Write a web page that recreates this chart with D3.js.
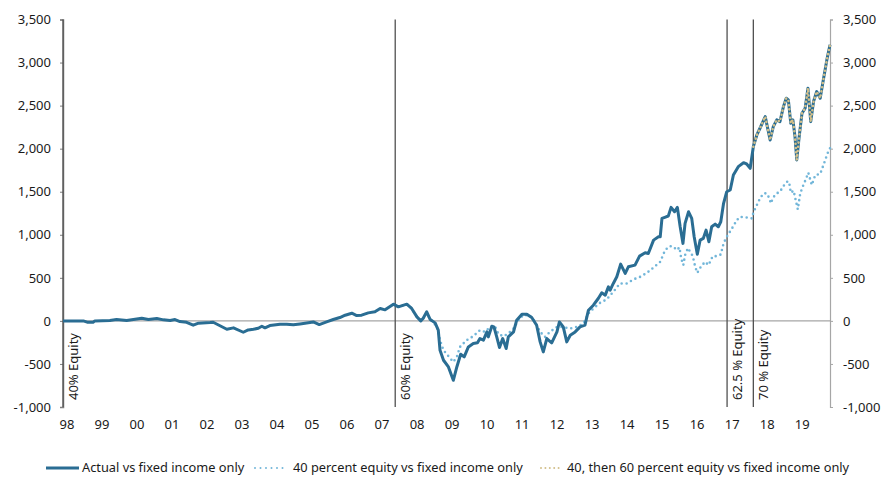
<!DOCTYPE html>
<html>
<head>
<meta charset="utf-8">
<script src="https://cdn.jsdelivr.net/npm/d3@7/dist/d3.min.js"></script>
<style>
  html, body { margin: 0; padding: 0; background: #fff; }
  svg { display: block; font-family: "Noto Sans", "Open Sans", sans-serif; }
</style>
</head>
<body>
<svg id="chart" width="888" height="482"></svg>
<script>
// ---- Data (decimal years, values) ----
const actualDates = [1998.00,1998.58,1998.69,1998.86,1998.91,1999.34,1999.53,1999.82,2000.25,2000.44,2000.68,2000.87,2001.06,2001.20,2001.34,2001.53,2001.72,2001.87,2002.20,2002.29,2002.68,2002.87,2003.15,2003.29,2003.44,2003.58,2003.68,2003.77,2003.91,2004.20,2004.39,2004.58,2004.77,2005.15,2005.32,2005.53,2005.72,2005.91,2006.06,2006.25,2006.39,2006.53,2006.72,2006.91,2007.06,2007.20,2007.44,2007.58,2007.82,2007.96,2008.11,2008.22,2008.29,2008.39,2008.49,2008.63,2008.72,2008.77,2008.87,2009.01,2009.15,2009.25,2009.36,2009.46,2009.58,2009.72,2009.84,2009.91,2010.01,2010.11,2010.15,2010.25,2010.31,2010.39,2010.47,2010.56,2010.66,2010.72,2010.87,2010.96,2011.11,2011.25,2011.39,2011.53,2011.63,2011.72,2011.82,2011.96,2012.11,2012.18,2012.29,2012.39,2012.49,2012.63,2012.77,2012.91,2013.01,2013.15,2013.29,2013.39,2013.49,2013.58,2013.63,2013.72,2013.82,2013.93,2014.06,2014.15,2014.34,2014.47,2014.63,2014.72,2014.87,2015.01,2015.06,2015.11,2015.23,2015.29,2015.37,2015.47,2015.55,2015.63,2015.71,2015.77,2015.87,2015.96,2016.03,2016.12,2016.20,2016.29,2016.37,2016.45,2016.53,2016.63,2016.72,2016.79,2016.87,2016.96,2017.06,2017.15,2017.29,2017.44,2017.53,2017.63,2017.72,2017.82,2017.91,2018.06,2018.12,2018.20,2018.29,2018.39,2018.48,2018.58,2018.66,2018.72,2018.79,2018.85,2018.91,2018.96,2019.03,2019.11,2019.20,2019.28,2019.36,2019.44,2019.53,2019.63,2019.72,2019.82,2019.91];
const actualValues = [0,0,-15,-15,0,5,16,5,31,16,27,12,4,16,-8,-16,-50,-27,-20,-16,-97,-81,-132,-105,-97,-85,-62,-81,-54,-39,-39,-46,-35,-12,-43,-12,16,39,66,89,62,66,93,105,144,128,194,163,194,144,47,0,31,105,16,-23,-108,-341,-457,-535,-690,-535,-387,-418,-302,-263,-255,-205,-224,-128,-186,-62,-70,-186,-310,-205,-321,-186,-128,8,78,78,39,-50,-244,-360,-205,-255,-128,-12,-70,-244,-166,-128,-70,-50,124,182,260,326,299,395,357,435,512,659,551,628,648,752,791,783,938,977,977,1190,1209,1217,1318,1267,1318,1093,900,1132,1267,1190,977,775,938,958,1054,919,1093,1124,1093,1151,1365,1500,1520,1694,1791,1837,1822,1772,2023,2159,2237,2372,2256,2101,2256,2334,2314,2488,2586,2566,2295,2334,2140,1869,2140,2412,2470,2702,2314,2547,2663,2586,2799,3031,3206];

const equity40Dates = [2007.44,2007.58,2007.82,2007.96,2008.11,2008.22,2008.29,2008.39,2008.49,2008.68,2008.77,2008.87,2009.01,2009.15,2009.25,2009.34,2009.53,2009.72,2009.91,2010.06,2010.20,2010.34,2010.44,2010.58,2010.72,2010.87,2011.01,2011.15,2011.34,2011.49,2011.63,2011.77,2011.91,2012.11,2012.25,2012.49,2012.68,2012.86,2013.01,2013.15,2013.34,2013.53,2013.72,2013.91,2014.11,2014.29,2014.49,2014.68,2014.87,2015.06,2015.20,2015.34,2015.44,2015.53,2015.61,2015.66,2015.72,2015.77,2015.85,2015.91,2015.99,2016.06,2016.12,2016.22,2016.34,2016.44,2016.56,2016.68,2016.79,2016.87,2016.96,2017.11,2017.25,2017.34,2017.53,2017.68,2017.72,2017.82,2017.91,2018.01,2018.10,2018.18,2018.22,2018.29,2018.39,2018.48,2018.58,2018.68,2018.74,2018.79,2018.87,2018.94,2018.99,2019.06,2019.13,2019.23,2019.29,2019.39,2019.49,2019.63,2019.74,2019.84,2019.91];
const equity40Values = [194,163,194,144,47,0,31,90,20,-66,-224,-341,-410,-477,-418,-302,-224,-178,-108,-128,-70,-62,-155,-178,-147,-89,8,70,58,-12,-128,-186,-128,-70,-70,-89,-70,-31,85,144,209,249,337,435,435,481,512,558,620,686,822,869,861,822,853,725,648,764,845,806,752,628,558,628,686,648,752,752,771,900,977,1074,1171,1209,1201,1190,1256,1345,1423,1481,1481,1423,1365,1435,1481,1500,1566,1616,1616,1488,1512,1384,1295,1481,1558,1656,1721,1578,1694,1706,1830,1946,2005];

const equity4060Dates = [2017.72,2017.82,2017.91,2018.06,2018.12,2018.20,2018.29,2018.39,2018.48,2018.58,2018.66,2018.72,2018.79,2018.85,2018.91,2018.96,2019.03,2019.11,2019.20,2019.28,2019.36,2019.44,2019.53,2019.63,2019.72,2019.82,2019.91];
const equity4060Values = [2023,2159,2237,2372,2256,2101,2256,2334,2314,2488,2586,2566,2295,2334,2140,1869,2140,2412,2470,2702,2314,2547,2663,2586,2799,3031,3206];

const switchDates = [1998.00, 2007.49, 2016.97, 2017.72];
const switchLabels = ["40% Equity", "60% Equity", "62.5 % Equity", "70 % Equity"];

const yTicks = [-1000, -500, 0, 500, 1000, 1500, 2000, 2500, 3000, 3500];
const xTickYears = [1998,1999,2000,2001,2002,2003,2004,2005,2006,2007,2008,2009,2010,2011,2012,2013,2014,2015,2016,2017,2018,2019];
const xTickLabels = ["98","99","00","01","02","03","04","05","06","07","08","09","10","11","12","13","14","15","16","17","18","19"];

const seriesNames = ["Actual vs fixed income only", "40 percent equity vs fixed income only", "40, then 60 percent equity vs fixed income only"];

// ---- Drawing ----
const svg = d3.select("#chart");
const pLeft = 63, pRight = 830, pTop = 19.5, pBottom = 407;
const x = d3.scaleLinear().domain([1998, 2019.91]).range([pLeft, pRight]);
const y = d3.scaleLinear().domain([-1000, 3500]).range([pBottom, pTop]);

const cActual = "#2a6d93", cE40 = "#72b6d9", cE4060 = "#d2bf8a";
const textColor = "#1a1a1a";
const fmt = d3.formatLocale({decimal: ".", thousands: ",", grouping: [3], currency: ["", ""], minus: "-"}).format(",");

// zero line
svg.append("line")
  .attr("x1", pLeft).attr("x2", pRight)
  .attr("y1", y(0)).attr("y2", y(0))
  .attr("stroke", "#a6a6a6").attr("stroke-width", 1.2);

// left axis
const gL = svg.append("g").attr("transform", `translate(${pLeft},0)`)
  .call(d3.axisLeft(y).tickValues(yTicks).tickFormat(fmt).tickSize(3).tickPadding(9));
gL.select(".domain").attr("stroke", "#7f7f7f").attr("stroke-width", 1.5);
gL.selectAll(".tick line").attr("stroke", "#7f7f7f");
gL.selectAll("text").attr("font-size", 13).attr("fill", textColor).attr("font-family", "Noto Sans");

// right axis
const gR = svg.append("g").attr("transform", `translate(${pRight},0)`)
  .call(d3.axisRight(y).tickValues(yTicks).tickFormat(fmt).tickSize(3).tickPadding(10));
gR.select(".domain").attr("stroke", "#a6a6a6").attr("stroke-width", 1.2);
gR.selectAll(".tick line").attr("stroke", "#a6a6a6");
gR.selectAll("text").attr("font-size", 13).attr("fill", textColor).attr("font-family", "Noto Sans");

// x axis labels
const gX = svg.append("g").attr("transform", `translate(0,${pBottom})`)
  .call(d3.axisBottom(x).tickValues(xTickYears).tickFormat((d, i) => xTickLabels[i]).tickSize(0).tickPadding(13));
gX.select(".domain").remove();
gX.selectAll("text").attr("font-size", 13).attr("fill", textColor).attr("font-family", "Noto Sans").attr("dx", 3.5);

// switch lines + labels
switchDates.forEach((d, i) => {
  svg.append("line")
    .attr("x1", x(d)).attr("x2", x(d))
    .attr("y1", pTop).attr("y2", pBottom)
    .attr("stroke", "#505050").attr("stroke-width", 1.3);
  svg.append("text")
    .attr("transform", `translate(${x(d) + 14.5},400) rotate(-90)`)
    .attr("font-size", 13).attr("fill", textColor)
    .text(switchLabels[i]);
});

const line = d3.line().x(d => x(d[0])).y(d => y(d[1])).curve(d3.curveLinear);

// 40% equity (dotted light blue)
svg.append("path")
  .datum(equity40Dates.map((d, i) => [d, equity40Values[i]]))
  .attr("d", line).attr("fill", "none")
  .attr("stroke", cE40).attr("stroke-width", 2.6)
  .attr("stroke-linecap", "round").attr("stroke-dasharray", "0 5");

// actual (solid)
svg.append("path")
  .datum(actualDates.map((d, i) => [d, actualValues[i]]))
  .attr("d", line).attr("fill", "none")
  .attr("stroke", cActual).attr("stroke-width", 3)
  .attr("stroke-linejoin", "round");

// 40 then 60 (dotted tan)
svg.append("path")
  .datum(equity4060Dates.map((d, i) => [d, equity4060Values[i]]))
  .attr("d", line).attr("fill", "none")
  .attr("stroke", cE4060).attr("stroke-width", 2.6)
  .attr("stroke-linecap", "round").attr("stroke-dasharray", "0 4.2");

// legend
const lg = svg.append("g");
const ly = 468;
const lfs = 12.8;
lg.append("line").attr("x1", 46).attr("x2", 79).attr("y1", ly).attr("y2", ly)
  .attr("stroke", cActual).attr("stroke-width", 3);
lg.append("text").attr("x", 82).attr("y", ly + 4.4).attr("font-size", lfs).attr("fill", textColor).text(seriesNames[0]);
lg.append("line").attr("x1", 255).attr("x2", 288).attr("y1", ly).attr("y2", ly)
  .attr("stroke", cE40).attr("stroke-width", 2).attr("stroke-linecap", "round").attr("stroke-dasharray", "0 5.5");
lg.append("text").attr("x", 293).attr("y", ly + 4.4).attr("font-size", lfs).attr("fill", textColor).text(seriesNames[1]);
lg.append("line").attr("x1", 541).attr("x2", 563).attr("y1", ly).attr("y2", ly)
  .attr("stroke", cE4060).attr("stroke-width", 2).attr("stroke-linecap", "round").attr("stroke-dasharray", "0 4.4");
lg.append("text").attr("x", 567).attr("y", ly + 4.4).attr("font-size", lfs).attr("fill", textColor).text(seriesNames[2]);
</script>
</body>
</html>
